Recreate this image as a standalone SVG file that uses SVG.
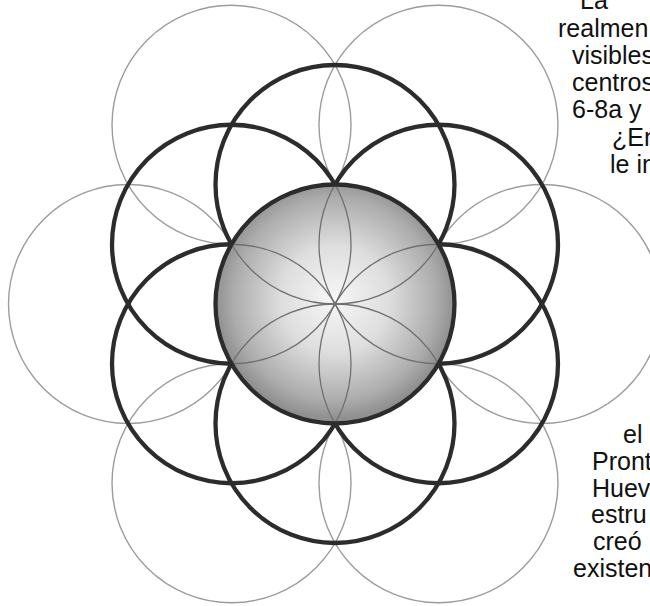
<svg xmlns="http://www.w3.org/2000/svg" width="650" height="606" viewBox="0 0 650 606">
<defs>
<style>
.thin{fill:none;stroke:#9c9c9c;stroke-width:1.4}
.thick{fill:none;stroke:#2c2c2c;stroke-width:4.3}
.petal{fill:none;stroke:#707070;stroke-width:1.3}
.txt{font-family:"Liberation Sans",Arial,sans-serif;font-size:25px;fill:#111}
</style>
<radialGradient id="sphereGrad" cx="0.5" cy="0.48" r="0.5">
<stop offset="0" stop-color="#f7f7f7"/>
<stop offset="0.45" stop-color="#dedede"/>
<stop offset="0.85" stop-color="#acacac"/>
<stop offset="1" stop-color="#909090"/>
</radialGradient>
<clipPath id="sphereClip"><circle cx="335" cy="304" r="119.5"/></clipPath>
</defs>
<rect width="650" height="606" fill="#ffffff"/>
<g id="outer-thin-circles">
<circle class="thin" cx="438.49" cy="124.75" r="119.5"/>
<circle class="thin" cx="541.98" cy="304" r="119.5"/>
<circle class="thin" cx="438.49" cy="483.25" r="119.5"/>
<circle class="thin" cx="231.51" cy="483.25" r="119.5"/>
<circle class="thin" cx="128.02" cy="304" r="119.5"/>
<circle class="thin" cx="231.51" cy="124.75" r="119.5"/>
</g>
<g id="thick-circles">
<circle class="thick" cx="335" cy="184.5" r="119.5"/>
<circle class="thick" cx="438.49" cy="244.25" r="119.5"/>
<circle class="thick" cx="438.49" cy="363.75" r="119.5"/>
<circle class="thick" cx="335" cy="423.5" r="119.5"/>
<circle class="thick" cx="231.51" cy="363.75" r="119.5"/>
<circle class="thick" cx="231.51" cy="244.25" r="119.5"/>
</g>
<g id="sphere">
<circle cx="335" cy="304" r="119.5" fill="url(#sphereGrad)"/>
<g clip-path="url(#sphereClip)">
<circle class="petal" cx="335" cy="184.5" r="119.5"/>
<circle class="petal" cx="438.49" cy="244.25" r="119.5"/>
<circle class="petal" cx="438.49" cy="363.75" r="119.5"/>
<circle class="petal" cx="335" cy="423.5" r="119.5"/>
<circle class="petal" cx="231.51" cy="363.75" r="119.5"/>
<circle class="petal" cx="231.51" cy="244.25" r="119.5"/>
</g>
<circle class="thick" cx="335" cy="304" r="119.5"/>
</g>
<g id="text-top">
<text class="txt" x="580" y="8.5">La</text>
<text class="txt" x="558" y="37">realmen</text>
<text class="txt" x="572" y="64">visibles</text>
<text class="txt" x="572" y="91">centros</text>
<text class="txt" x="572" y="118">6-8a y</text>
<text class="txt" x="612" y="146">¿En</text>
<text class="txt" x="610" y="173">le  in</text>
</g>
<g id="text-bottom">
<text class="txt" x="623" y="443">el</text>
<text class="txt" x="592" y="470">Pront</text>
<text class="txt" x="592" y="497">Huev</text>
<text class="txt" x="591" y="523">estru</text>
<text class="txt" x="593" y="550">creó</text>
<text class="txt" x="573" y="577">existen</text>
</g>
</svg>
